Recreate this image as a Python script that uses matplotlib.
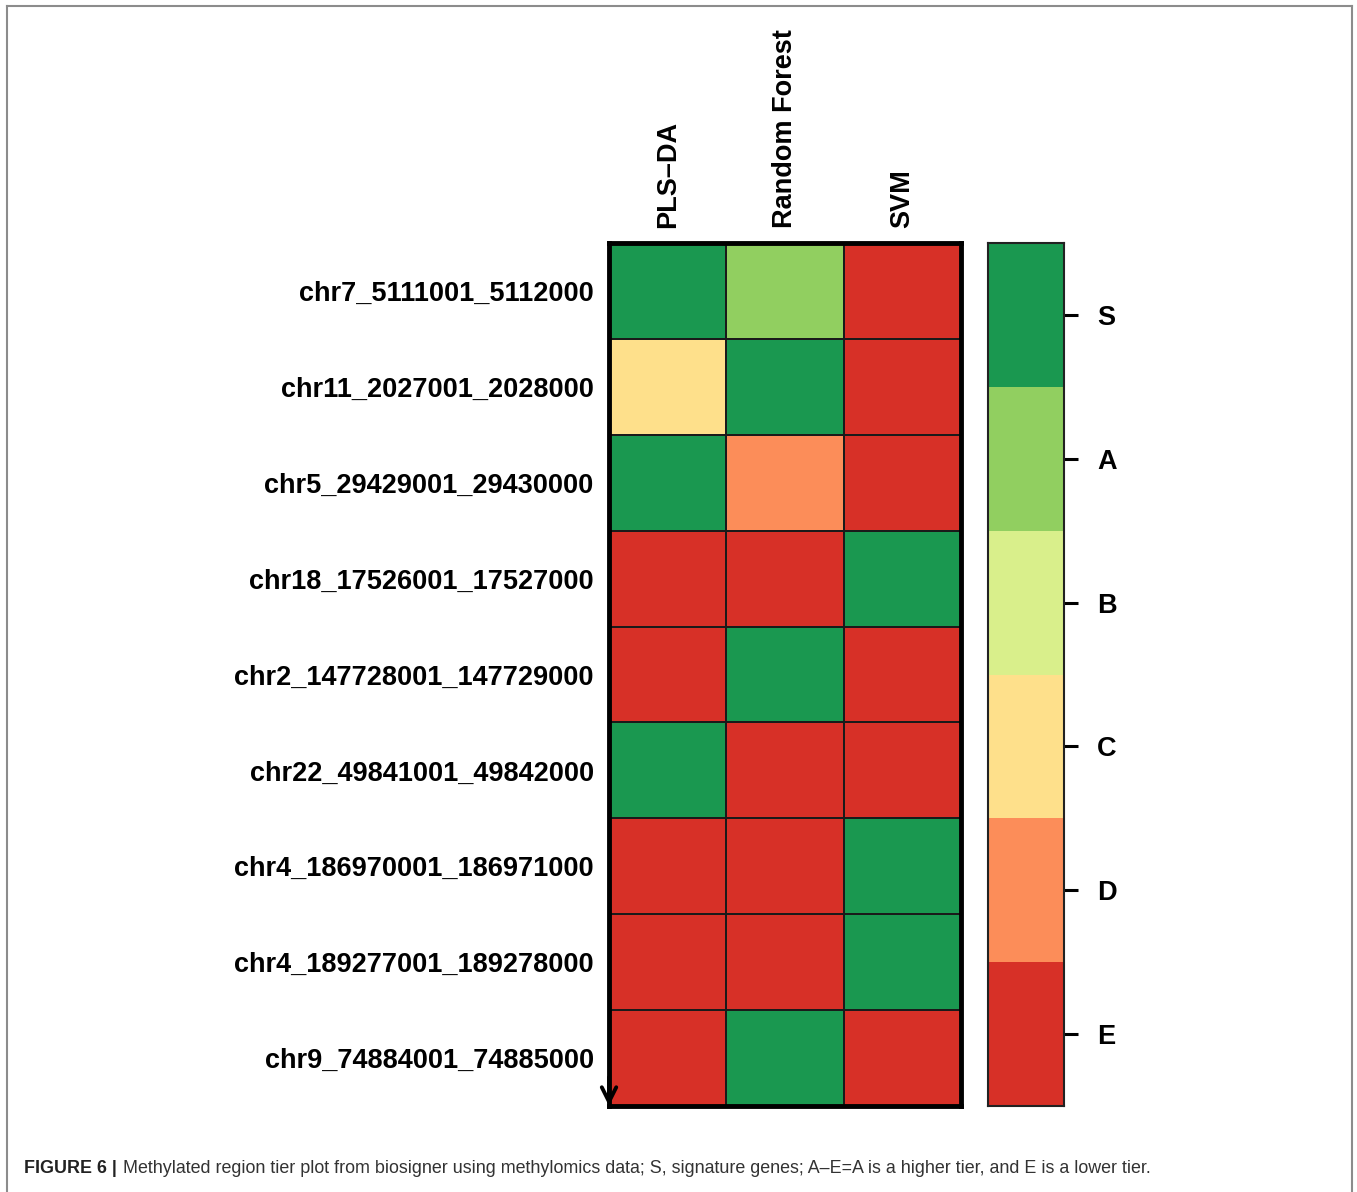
import matplotlib
matplotlib.use("Agg")
import matplotlib.pyplot as plt
from matplotlib.colors import ListedColormap, BoundaryNorm
from matplotlib.lines import Line2D
import numpy as np

plt.rcParams["font.family"] = ["Liberation Sans", "DejaVu Sans"]

regions = [
    "chr7_5111001_5112000",
    "chr11_2027001_2028000",
    "chr5_29429001_29430000",
    "chr18_17526001_17527000",
    "chr2_147728001_147729000",
    "chr22_49841001_49842000",
    "chr4_186970001_186971000",
    "chr4_189277001_189278000",
    "chr9_74884001_74885000",
]
classifiers = ["PLS\u2013DA", "Random Forest", "SVM"]
tiers = ["S", "A", "B", "C", "D", "E"]

# tier per region (rows) and classifier (columns)
tier_table = [
    ["S", "A", "E"],
    ["C", "S", "E"],
    ["S", "D", "E"],
    ["E", "E", "S"],
    ["E", "S", "E"],
    ["S", "E", "E"],
    ["E", "E", "S"],
    ["E", "E", "S"],
    ["E", "S", "E"],
]

tier_colors = ["#1a9850", "#91cf60", "#d9ef8b", "#fee08b", "#fc8d59", "#d73027"]

cmap = ListedColormap(tier_colors)
norm = BoundaryNorm(np.arange(-0.5, len(tiers) + 0.5), cmap.N)
codes = np.array([[tiers.index(t) for t in row] for row in tier_table])

fig = plt.figure(figsize=(13.57, 11.92), dpi=100)

# outer frame (left, top, right)
frame_kw = dict(color="#8c8c8c", lw=1.5, transform=fig.transFigure)
fig.add_artist(Line2D([0.0055, 0.0055], [0, 0.995], **frame_kw))
fig.add_artist(Line2D([0.0055, 0.9965], [0.995, 0.995], **frame_kw))
fig.add_artist(Line2D([0.9965, 0.9965], [0, 0.995], **frame_kw))

# heatmap
ax = fig.add_axes([0.4488, 0.0721, 0.2594, 0.7240])
ax.pcolormesh(codes, cmap=cmap, norm=norm, edgecolors="#1a1a1a", linewidth=1.1)
ax.set_xlim(0, len(classifiers))
ax.set_ylim(len(regions), 0)
ax.set_xticks(np.arange(len(classifiers)) + 0.5)
ax.set_xticklabels(classifiers, rotation=90, fontsize=19.5, fontweight="bold")
ax.xaxis.tick_top()
ax.set_yticks(np.arange(len(regions)) + 0.5)
ax.set_yticklabels(regions, fontsize=19.5, fontweight="bold")
ax.tick_params(axis="both", length=0)
ax.tick_params(axis="x", pad=11)
ax.tick_params(axis="y", pad=11)
for s in ax.spines.values():
    s.set_linewidth(3.5)
    s.set_color("black")
ax.annotate("", xy=(0, len(regions)), xytext=(0, len(regions) - 0.3),
            arrowprops=dict(arrowstyle="->", lw=2.8, color="black",
                            mutation_scale=26, shrinkA=0, shrinkB=0),
            annotation_clip=False)

# tier colour key
cax = fig.add_axes([0.7281, 0.0721, 0.0560, 0.7240])
cax.pcolormesh(np.arange(len(tiers)).reshape(-1, 1), cmap=cmap, norm=norm)
cax.set_ylim(len(tiers), 0)
cax.set_xticks([])
cax.set_yticks(np.arange(len(tiers)) + 0.5)
cax.set_yticklabels(tiers, fontsize=19.5, fontweight="bold")
cax.yaxis.tick_right()
cax.tick_params(axis="y", length=10, width=2.2, pad=14)
for s in cax.spines.values():
    s.set_linewidth(1.5)
    s.set_color("#222222")

# caption
t1 = fig.text(0.0177, 0.0201, "FIGURE 6 |", fontsize=12.9, fontweight="bold",
              va="center", ha="left", color="#222222")
fig.canvas.draw()
bb = t1.get_window_extent(renderer=fig.canvas.get_renderer())
x_next = (bb.x1 + 6) / fig.bbox.width
fig.text(x_next, 0.0201,
         "Methylated region tier plot from biosigner using methylomics data; "
         "S, signature genes; A\u2013E=A is a higher tier, and E is a lower tier.",
         fontsize=12.9, va="center", ha="left", color="#333333")

fig.savefig("out.png", dpi=100)
